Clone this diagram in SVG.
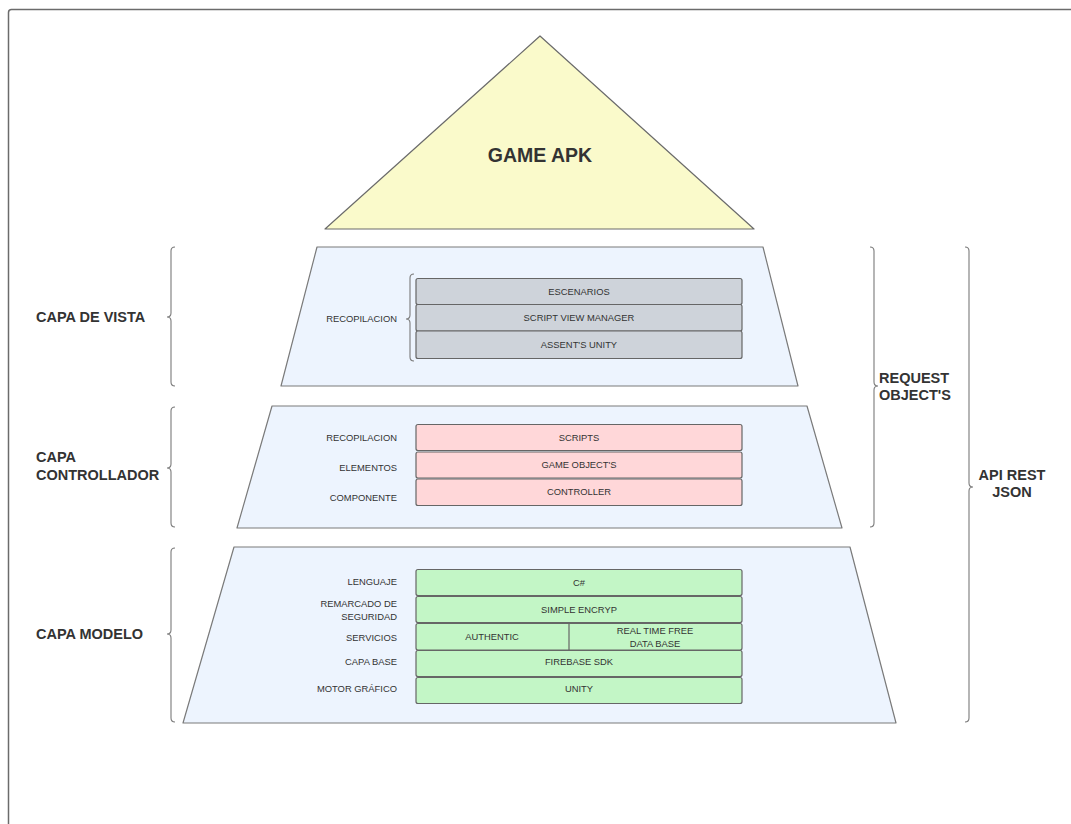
<svg xmlns="http://www.w3.org/2000/svg" width="1071" height="824" viewBox="0 0 1071 824">
<style>
.frame{fill:#fff;stroke:#6b6b6b;stroke-width:1.5}
.trap{fill:#edf4fe;stroke:#7a7a7a;stroke-width:1.2;stroke-linejoin:round}
.tri{fill:#fafacb;stroke:#6b6b6b;stroke-width:1.2;stroke-linejoin:round}
.gray{fill:#ced3da;stroke:#666;stroke-width:1.2}
.pink{fill:#ffd7d9;stroke:#666;stroke-width:1.2}
.green{fill:#c3f6c6;stroke:#666;stroke-width:1.2}
.brace{fill:none;stroke:#7a7a7a;stroke-width:1.1}
.t{font-family:"Liberation Sans",Arial,sans-serif;font-size:9.4px;fill:#333;dominant-baseline:central}
.c{text-anchor:middle}
.r{text-anchor:end}
.b{font-family:"Liberation Sans",Arial,sans-serif;font-weight:bold;font-size:14.5px;fill:#333;dominant-baseline:central}
</style>
<rect class="frame" x="8.5" y="9.5" width="1100" height="900" rx="3"/>

<g id="game-apk">
<polygon class="tri" points="540,36 754,229 325,229"/>
<text class="b c" x="540" y="155" style="font-size:19.5px">GAME APK</text>
</g>

<g id="capa-vista">
<polygon class="trap" points="317,247 763,247 798,386 281,386"/>
<rect class="gray" x="416" y="278.5" width="326" height="26" rx="2"/>
<rect class="gray" x="416" y="304.5" width="326" height="26.5" rx="2"/>
<rect class="gray" x="416" y="331" width="326" height="27.5" rx="2"/>
<text class="t c" x="579" y="291.5">ESCENARIOS</text>
<text class="t c" x="579" y="317.5">SCRIPT VIEW MANAGER</text>
<text class="t c" x="579" y="344.5">ASSENT'S UNITY</text>
<text class="t r" x="397" y="318">RECOPILACION</text>
<path class="brace" d="M414,274 Q410,274 410,278 L410,315 Q410,319 406,319 Q410,319 410,323 L410,357 Q410,361 414,361"/>
</g>

<g id="capa-controller">
<polygon class="trap" points="272,406 807,406 842,528 237,528"/>
<rect class="pink" x="416" y="424.5" width="326" height="26" rx="2"/>
<rect class="pink" x="416" y="452" width="326" height="26" rx="2"/>
<rect class="pink" x="416" y="479" width="326" height="26.5" rx="2"/>
<text class="t c" x="579" y="437">SCRIPTS</text>
<text class="t c" x="579" y="464.5">GAME OBJECT'S</text>
<text class="t c" x="579" y="491">CONTROLLER</text>
<text class="t r" x="397" y="437">RECOPILACION</text>
<text class="t r" x="397" y="467">ELEMENTOS</text>
<text class="t r" x="397" y="497">COMPONENTE</text>
</g>

<g id="capa-modelo">
<polygon class="trap" points="234,547 850,547 896,723 183,723"/>
<rect class="green" x="416" y="569.5" width="326" height="26" rx="2"/>
<rect class="green" x="416" y="596.5" width="326" height="26" rx="2"/>
<rect class="green" x="416" y="623.5" width="326" height="26.5" rx="2"/>
<line x1="569" y1="623.5" x2="569" y2="650" stroke="#666" stroke-width="1.2"/>
<rect class="green" x="416" y="650.5" width="326" height="26" rx="2"/>
<rect class="green" x="416" y="677.5" width="326" height="26" rx="2"/>
<text class="t c" x="579" y="582">C#</text>
<text class="t c" x="579" y="609">SIMPLE ENCRYP</text>
<text class="t c" x="492" y="636.5">AUTHENTIC</text>
<text class="t c" x="655" y="630.5">REAL TIME FREE</text>
<text class="t c" x="655" y="643">DATA BASE</text>
<text class="t c" x="579" y="661">FIREBASE SDK</text>
<text class="t c" x="579" y="688.5">UNITY</text>
<text class="t r" x="397" y="581.5">LENGUAJE</text>
<text class="t r" x="397" y="603">REMARCADO DE</text>
<text class="t r" x="397" y="616">SEGURIDAD</text>
<text class="t r" x="397" y="637">SERVICIOS</text>
<text class="t r" x="397" y="661.5">CAPA BASE</text>
<text class="t r" x="397" y="688">MOTOR GRÁFICO</text>
</g>

<g id="label-vista">
<text class="b" x="36" y="317">CAPA DE VISTA</text>
</g>
<g id="label-controller">
<text class="b" x="36" y="457">CAPA</text>
<text class="b" x="36" y="475">CONTROLLADOR</text>
</g>
<g id="label-modelo">
<text class="b" x="36" y="634">CAPA MODELO</text>
</g>
<g id="label-request">
<text class="b" x="879" y="378">REQUEST</text>
<text class="b" x="879" y="395">OBJECT'S</text>
</g>
<g id="label-api">
<text class="b c" x="1012" y="475">API REST</text>
<text class="b c" x="1012" y="492">JSON</text>
</g>

<g id="connectors">
<path class="brace" d="M175,247 Q171,247 171,251 L171,313 Q171,317 167,317 Q171,317 171,321 L171,382 Q171,386 175,386"/>
<path class="brace" d="M175,407 Q171,407 171,411 L171,464 Q171,468 167,468 Q171,468 171,472 L171,523 Q171,527 175,527"/>
<path class="brace" d="M175,548 Q171,548 171,552 L171,630 Q171,634 167,634 Q171,634 171,638 L171,718 Q171,722 175,722"/>
<path class="brace" d="M870,247 Q874,247 874,251 L874,382 Q874,386 878,386 Q874,386 874,390 L874,523 Q874,527 870,527"/>
<path class="brace" d="M965,247 Q969,247 969,251 L969,483 Q969,487 973,487 Q969,487 969,491 L969,718 Q969,722 965,722"/>
</g>
</svg>
